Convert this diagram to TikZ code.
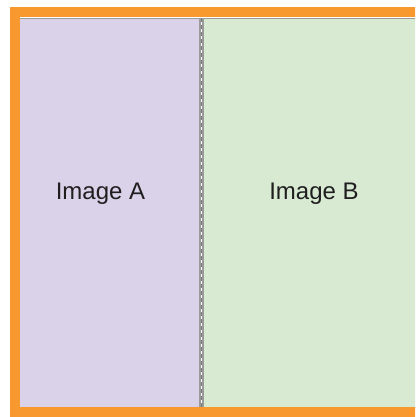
\documentclass[tikz,border=0pt]{standalone}
\usepackage{fontspec}
\setmainfont{Liberation Sans}
\definecolor{lav}{HTML}{D9D2E9}
\definecolor{mint}{HTML}{D9EAD3}
\definecolor{orng}{HTML}{F7992E}
\definecolor{edge}{HTML}{9A9A9A}
\begin{document}
\begin{tikzpicture}[x=1pt,y=1pt,
  panel/.style={draw=edge,line width=1.2pt},
  lbl/.style={font=\fontsize{24}{28}\selectfont,text=black!88,inner sep=0pt,anchor=base}]
\useasboundingbox (0,0) rectangle (415,417);
\clip (0,0) rectangle (415,417);
\fill[white] (0,0) rectangle (415,417);
\draw[panel,fill=lav] (19.5,398.5) rectangle (200,9.5);
\draw[panel,fill=mint] (203,398.5) rectangle (440,9.5);
\draw[edge!80!black,line width=0.8pt,dash pattern=on 4pt off 3pt] (201.5,398.5) -- (201.5,9.5);
\draw[orng,line width=10pt] (14.5,404.5) rectangle (430,4.5);
\node[lbl] (a) at (100.5,217) {Image A};
\node[lbl] (b) at (314,217) {Image B};
\end{tikzpicture}
\end{document}
